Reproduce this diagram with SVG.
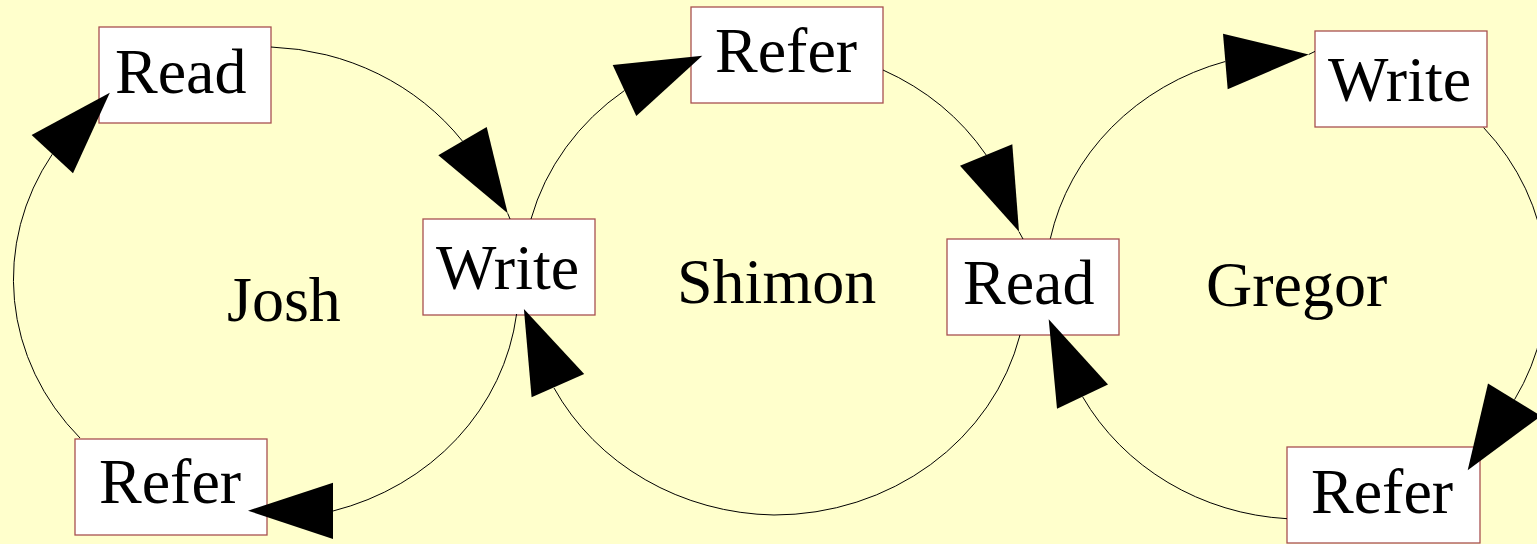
<svg xmlns="http://www.w3.org/2000/svg" width="1537" height="544" viewBox="0 0 1537 544">
<style>
.box{fill:#ffffff;stroke:#a85050;stroke-width:1.3}
.t{font-family:"Liberation Serif","Times New Roman",serif;font-size:64px;fill:#000}
.e{fill:none;stroke:#000;stroke-width:1}
.h{fill:#000;stroke:none}
</style>
<rect x="0" y="0" width="1537" height="544" fill="#ffffcc"/>
<g id="josh-label"><text class="t" x="227" y="321">Josh</text></g>
<g id="shimon-label"><text class="t" x="677" y="303">Shimon</text></g>
<g id="gregor-label"><text class="t" x="1206" y="306">Gregor</text></g>
<g id="josh-read"><rect class="box" x="99" y="27" width="172" height="96"/><text class="t" x="115" y="93">Read</text></g>
<g id="josh-write"><rect class="box" x="423" y="219" width="172" height="96"/><text class="t" x="436" y="289">Write</text></g>
<g id="josh-refer"><rect class="box" x="75" y="439" width="192" height="96"/><text class="t" x="99" y="503">Refer</text></g>
<g id="shimon-refer"><rect class="box" x="691" y="7" width="192" height="96"/><text class="t" x="715" y="72">Refer</text></g>
<g id="shimon-read"><rect class="box" x="947" y="239" width="172" height="96"/><text class="t" x="963" y="304">Read</text></g>
<g id="gregor-write"><rect class="box" x="1315" y="31" width="172" height="96"/><text class="t" x="1328" y="101">Write</text></g>
<g id="gregor-refer"><rect class="box" x="1287" y="447" width="193" height="96"/><text class="t" x="1311" y="513">Refer</text></g>
<g id="connectors">
<path class="e" d="M271,47 A251,234 0 0 1 462.5,141.2"/>
<polygon class="h" points="438.3,155.3 486.7,127 507.7,213.3"/>
<path class="e" d="M507.7,213.3 L510,219"/>
<path class="e" d="M516.6,314 A251,234 0 0 1 333,511"/>
<polygon class="h" points="333,482.7 333,539 248,510.7"/>
<path class="e" d="M80,438 A251,234 0 0 1 52.3,154.2"/>
<polygon class="h" points="31.6,135 73,173.3 109.8,92.7"/>
<path class="e" d="M531,219 A253,235 0 0 1 624.5,90.5"/>
<polygon class="h" points="612.7,65 636.3,116 702.3,55.7"/>
<path class="e" d="M883,70 A253,235 0 0 1 986.2,155"/>
<polygon class="h" points="960,165.7 1012.3,144.3 1019,231.7"/>
<path class="e" d="M1019,231.7 L1023,239"/>
<path class="e" d="M1020,335 A253,235 0 0 1 774,515 A253,235 0 0 1 554,388"/>
<polygon class="h" points="531.6,397.3 584.2,374 523.9,309"/>
<path class="e" d="M1050.3,238.7 A250,235 0 0 1 1225.3,61.5"/>
<polygon class="h" points="1223,33.7 1227.7,89.2 1308.7,54.5"/>
<path class="e" d="M1308.7,54.5 L1315,51.4"/>
<path class="e" d="M1483.7,127.7 A250,235 0 0 1 1514.5,399.7"/>
<polygon class="h" points="1488,383.4 1541,416 1467.7,470.2"/>
<path class="e" d="M1287,518.7 A250,235 0 0 1 1082.5,396.6"/>
<polygon class="h" points="1057,408.7 1108,384.5 1048.7,319.2"/>
</g>
</svg>
